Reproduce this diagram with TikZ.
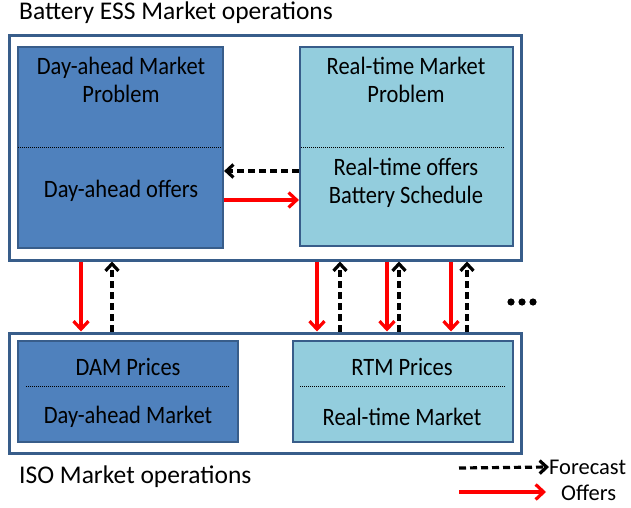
\documentclass[tikz,border=0pt]{standalone}
\usepackage{fontspec}
\setmainfont{Carlito}
\newfontfamily\narrowfont[FakeStretch=0.9]{Carlito}
\usetikzlibrary{arrows.meta,calc}
\definecolor{dkblue}{HTML}{4F81BD}
\definecolor{ltblue}{HTML}{93CDDD}
\definecolor{edgeblue}{HTML}{385D8A}
\definecolor{offred}{HTML}{FF0000}
\begin{document}
\begin{tikzpicture}[x=1pt,y=-1pt,
  outerbox/.style={draw=edgeblue,line width=3pt,fill=white,inner sep=0pt},
  dabox/.style={draw=edgeblue,line width=2.2pt,fill=dkblue,inner sep=0pt},
  rtbox/.style={draw=edgeblue,line width=2.2pt,fill=ltblue,inner sep=0pt},
  lbl/.style={font=\narrowfont\fontsize{25}{27.5}\selectfont,inner sep=0pt,align=center,text=black},
  ttl/.style={font=\fontsize{25.5}{28}\selectfont,inner sep=0pt,text=black},
  leg/.style={font=\fontsize{22.5}{26}\selectfont,inner sep=0pt,text=black},
  sep/.style={line width=0.9pt,dash pattern=on 1pt off 1pt},
  offer/.style={draw=offred,line width=3.2pt,-{Straight Barb[length=8pt,width=15pt]}},
  fcst/.style={draw=black,line width=3.2pt,dash pattern=on 7pt off 4pt,-{Straight Barb[length=7pt,width=13pt]}}]
\useasboundingbox (0,0) rectangle (631,508);
% outer boxes
\node[outerbox,minimum width=512pt,minimum height=224pt] (top) at (265,148) {};
\node[outerbox,minimum width=512pt,minimum height=120pt] (bot) at (265,393) {};
% inner boxes
\node[dabox,minimum width=205pt,minimum height=201pt] (dap) at (120.5,147.5) {};
\node[rtbox,minimum width=213pt,minimum height=199pt] (rtp) at (406.5,146.5) {};
\node[dabox,minimum width=220pt,minimum height=101pt] (dam) at (128,391.5) {};
\node[rtbox,minimum width=220pt,minimum height=101pt] (rtm) at (403,391.5) {};
% dotted separators
\draw[sep] (18,147) -- (222,147);
\draw[sep] (301,147) -- (505,147);
\draw[sep] (26,386) -- (229,386);
\draw[sep] (300,386) -- (505,386);
% labels
\node[lbl] (t1) at (121,80) {Day-ahead Market\\Problem};
\node[lbl] (t2) at (121,191) {Day-ahead offers};
\node[lbl] (t3) at (406,80) {Real-time Market\\Problem};
\node[lbl] (t4) at (406,183) {Real-time offers\\Battery Schedule};
\node[lbl] (t5) at (128,367) {DAM Prices};
\node[lbl] (t6) at (128,417) {Day-ahead Market};
\node[lbl] (t7) at (402,367) {RTM Prices};
\node[lbl] (t8) at (402,417) {Real-time Market};
\node[ttl,anchor=west] (title) at (19,13) {Battery ESS Market operations};
\node[ttl,anchor=west] (iso) at (19,477) {ISO Market operations};
% horizontal arrows
\coordinate (hf) at (0,171);
\coordinate (ho) at (0,200);
\draw[fcst] (rtp.west |- hf) -- (dap.east |- hf);
\draw[offer] (dap.east |- ho) -- (rtp.west |- ho);
% vertical arrows
\foreach \xo/\xf [count=\i] in {81/112,317/340,387/399,451/467}{
  \coordinate (o\i) at (\xo,0);
  \coordinate (f\i) at (\xf,0);
  \draw[offer] (top.south -| o\i) -- (bot.north -| o\i);
  \draw[fcst] (bot.north -| f\i) -- (top.south -| f\i);
}
% dots
\foreach \xd in {511,522,533}{\fill (\xd,302) circle (3.6pt);}
% legend
\coordinate (lf1) at (459,468);
\node[leg,anchor=west] (lgf) at (549,467) {Forecast};
\draw[fcst] (lf1) -- (lgf.west);
\coordinate (lo1) at (459,492);
\coordinate (lo2) at (546,492);
\node[leg,anchor=west] (lgo) at (561,493) {Offers};
\draw[offer] (lo1) -- (lo2);
\end{tikzpicture}
\end{document}
